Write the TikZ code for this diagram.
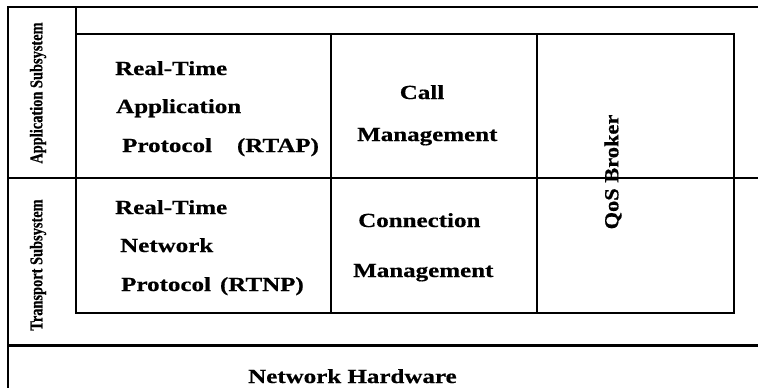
\documentclass[tikz,border=0pt]{standalone}
\usepackage{fontspec}
\setmainfont{Liberation Serif}
% wide bold face for the box labels, narrow one for the side labels
\newfontfamily\widebold[FakeStretch=1.25,FakeBold=0.6]{Liberation Serif Bold}
\newfontfamily\broker[FakeStretch=1.12,FakeBold=0.6]{Liberation Serif Bold}
\newfontfamily\narrowbold[FakeStretch=0.8,FakeBold=0.6]{Liberation Serif Bold}
\begin{document}
\begin{tikzpicture}[x=1pt,y=-1pt,
  frame/.style={line width=1.9pt,black},
  cell/.style={line width=2.5pt,black},
  heavy/.style={line width=3pt,black},
  lbl/.style={font=\widebold\fontsize{20}{22}\selectfont,inner sep=0pt,anchor=base west},
  sidelbl/.style={font=\narrowbold\fontsize{18}{20}\selectfont,inner sep=0pt,rotate=90,anchor=center}]
  \useasboundingbox (0,0) rectangle (758,388);
  \fill[white] (0,0) rectangle (758,388);

  % outer frame of the stack
  \draw[frame] (758,7) -- (8,7) -- (8,388);
  \draw[frame] (76,7) -- (76,178);
  \draw[cell] (8,178) -- (758,178);
  \draw[heavy] (8,345) -- (758,345);

  % protocol block with its columns
  \draw[cell] (76,34) rectangle (734,313);
  \draw[cell] (331,34) -- (331,313);
  \draw[cell] (537,34) -- (537,313);

  % side labels
  \node[sidelbl] (appsub) at (38,93) {Application Subsystem};
  \node[sidelbl] (trsub) at (38,265) {Transport Subsystem};

  % application layer
  \node[lbl] (rtap1) at (115,75) {Real-Time};
  \node[lbl] (rtap2) at (116,113) {Application};
  \node[lbl] (rtap3) at (122,152) {Protocol\hspace*{25pt}(RTAP)};
  \node[lbl,anchor=base] (call1) at (422,99) {Call};
  \node[lbl] (call2) at (357,141) {Management};

  % transport layer
  \node[lbl] (rtnp1) at (115,214) {Real-Time};
  \node[lbl] (rtnp2) at (120,252) {Network};
  \node[lbl] (rtnp3) at (121,291) {Protocol\hspace*{9pt}(RTNP)};
  \node[lbl] (conn1) at (358,227) {Connection};
  \node[lbl] (conn2) at (353,277) {Management};

  % QoS broker spanning both layers
  \node[font=\broker\fontsize{20}{22}\selectfont,inner sep=0pt,rotate=90,anchor=center] (qos) at (613,172) {QoS Broker};

  % hardware layer
  \node[lbl] (hw) at (248,383) {Network Hardware};
\end{tikzpicture}
\end{document}
